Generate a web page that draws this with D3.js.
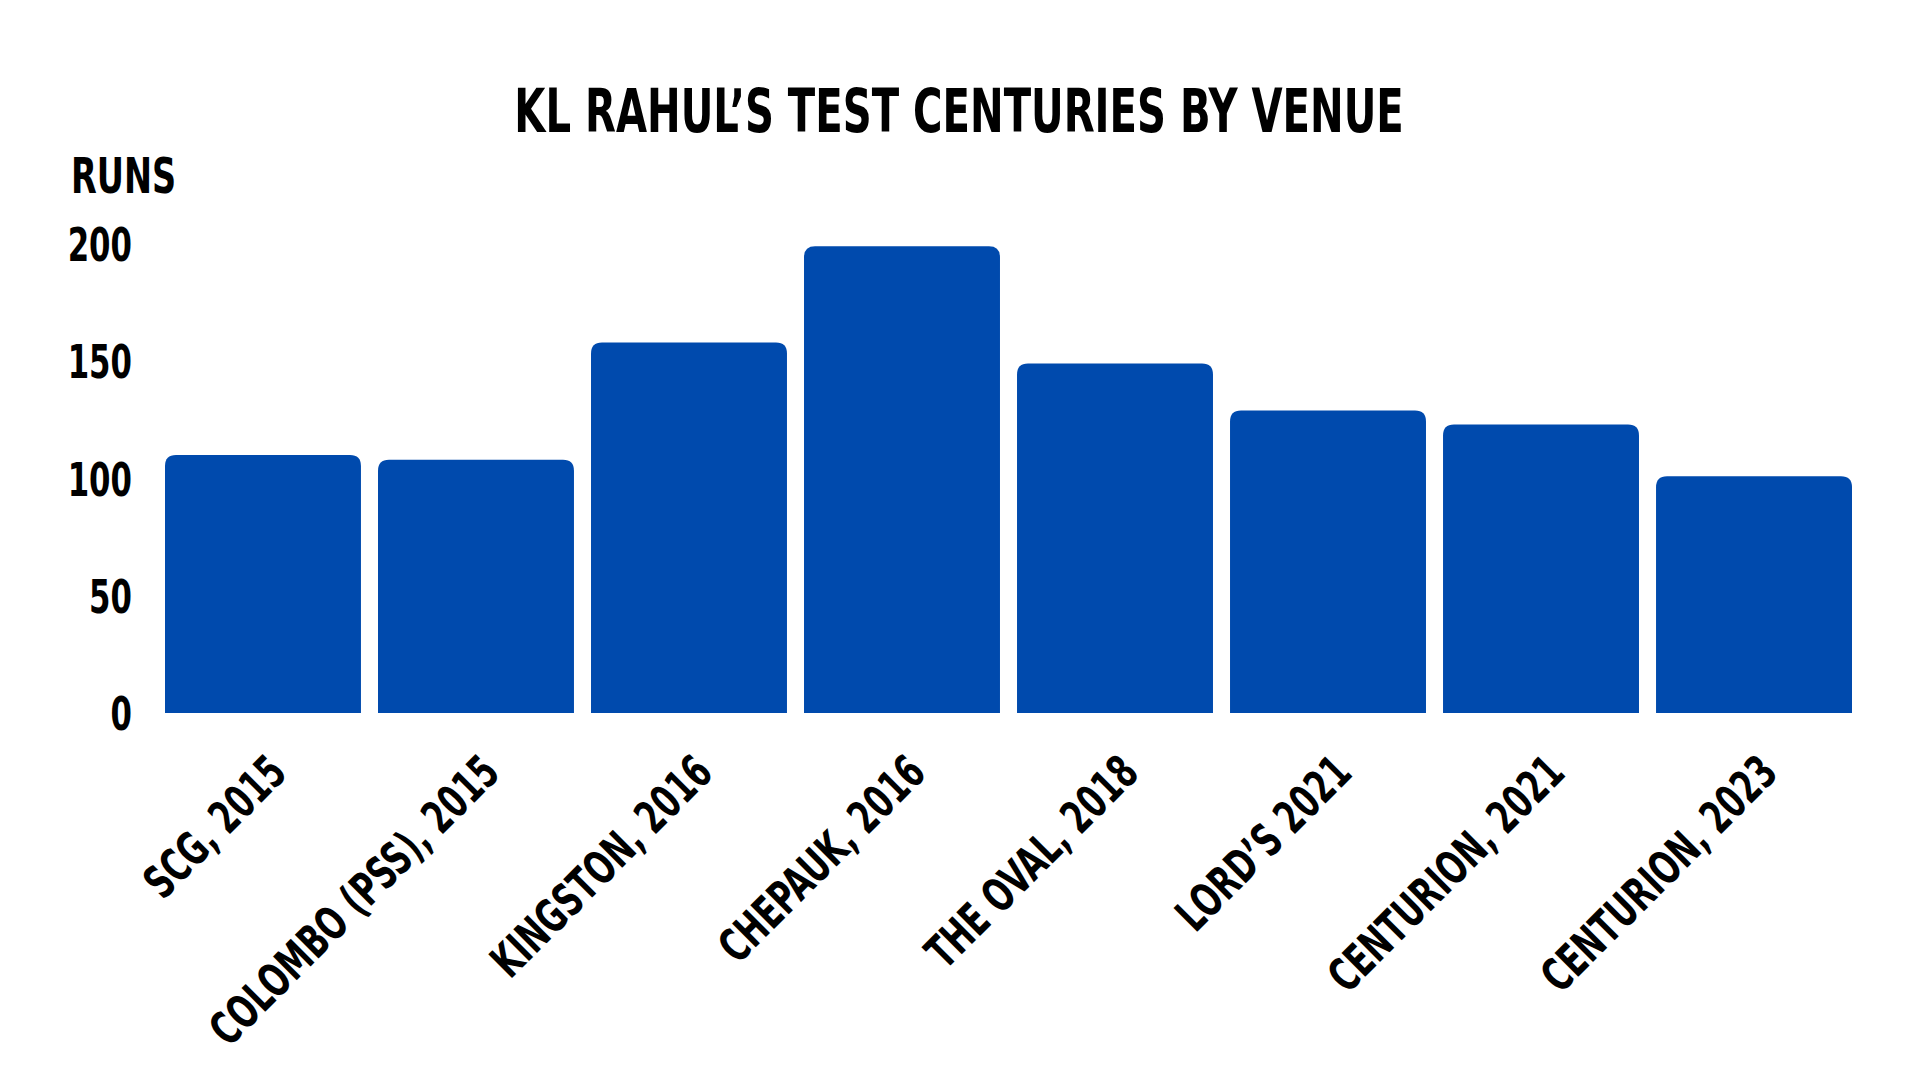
<!DOCTYPE html>
<html>
<head>
<meta charset="UTF-8">
<title>KL Rahul's Test centuries by venue</title>
<script src="https://d3js.org/d3.v7.min.js"></script>
<style>
	body { margin: 0; background: #fff; }
	text { font-family: "DejaVu Sans", sans-serif; font-weight: bold; fill: #000; }
</style>
</head>
<body>
	<div id="chart"></div>
	<script type="text/javascript">

		// data
		let venues = ["SCG, 2015", "COLOMBO (PSS), 2015", "KINGSTON, 2016", "CHEPAUK, 2016",
			"THE OVAL, 2018", "LORD’S 2021", "CENTURION, 2021", "CENTURION, 2023"];
		let runs = [110, 108, 158, 199, 149, 129, 123, 101];
		let yTicks = [0, 50, 100, 150, 200];

		let width = 1920, height = 1080;

		// the font on the picture is a narrow one, so squeeze DejaVu a bit
		let squeeze = 0.67;

		let svg = d3.select("#chart")
			.append("svg")
			.attr("width", width)
			.attr("height", height);

		let x = d3.scaleBand()
			.domain(venues)
			.range([165, 1852])
			.paddingInner(0.08)
			.paddingOuter(0);

		let y = d3.scaleLinear()
			.domain([0, 200])
			.range([713, 244]);

		// title
		svg.append("text")
			.attr("transform", `translate(959,132) scale(${squeeze},1)`)
			.attr("text-anchor", "middle")
			.style("font-size", "60px")
			.text("KL RAHUL’S TEST CENTURIES BY VENUE");

		svg.append("text")
			.attr("transform", `translate(71,193) scale(${squeeze},1)`)
			.style("font-size", "50px")
			.text("RUNS");

		// bars with rounded tops
		let r = 11;
		svg.selectAll("path.bar")
			.data(runs)
			.join("path")
			.attr("class", "bar")
			.attr("fill", "#004aad")
			.attr("d", (d, i) => {
				let x0 = x(venues[i]), x1 = x0 + x.bandwidth();
				let y0 = y(0), y1 = y(d);
				return `M${x0},${y0}V${y1 + r}Q${x0},${y1} ${x0 + r},${y1}H${x1 - r}Q${x1},${y1} ${x1},${y1 + r}V${y0}Z`;
			});

		// y axis, no line
		let yAxis = svg.append("g")
			.attr("transform", "translate(132,0)")
			.call(d3.axisLeft(y).tickValues(yTicks).tickSize(0).tickPadding(0));
		yAxis.select(".domain").remove();
		yAxis.selectAll("text")
			.attr("x", 0)
			.attr("dy", "0.36em")
			.attr("transform", `scale(${squeeze},1)`)
			.style("font-size", "46px");

		// x axis labels, rotated
		let xAxis = svg.append("g")
			.attr("transform", "translate(0,713)")
			.call(d3.axisBottom(x).tickSize(0).tickPadding(0));
		xAxis.select(".domain").remove();
		xAxis.selectAll("text")
			.attr("text-anchor", "end")
			.attr("dy", 0)
			.attr("y", 0)
			.attr("transform", `translate(26,62) rotate(-45) scale(${squeeze},1)`)
			.style("font-size", "46px");
	</script>
</body>
</html>
